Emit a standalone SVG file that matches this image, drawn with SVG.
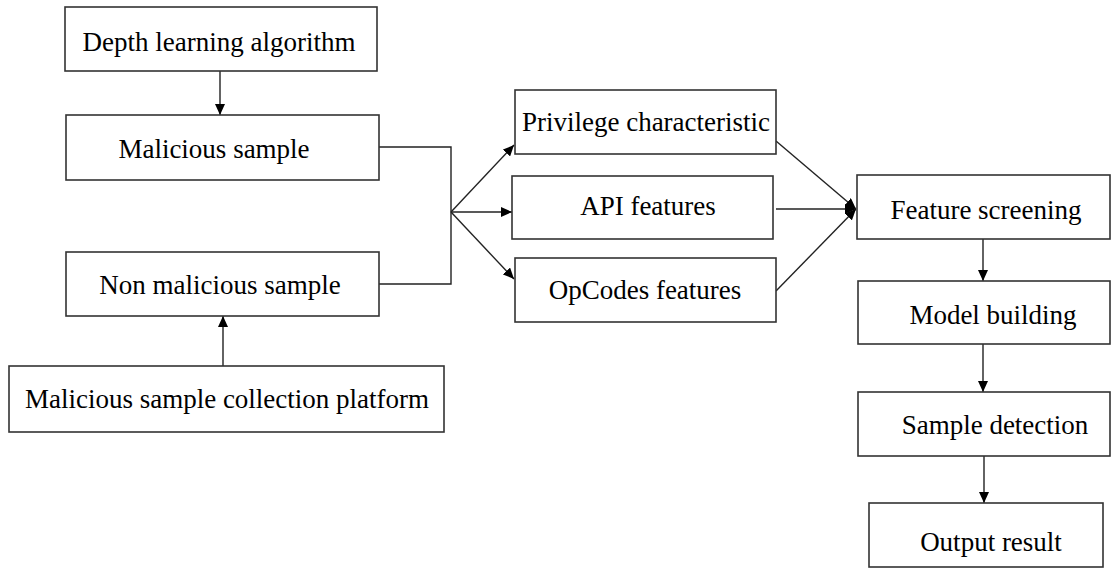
<svg xmlns="http://www.w3.org/2000/svg" width="1111" height="568" viewBox="0 0 1111 568">
<style>
.box{fill:#fff;stroke:#333;stroke-width:1.6}
.t{font-family:"Liberation Serif","Times New Roman",serif;font-size:27px;fill:#000;text-anchor:middle}
.c{fill:none;stroke:#222;stroke-width:1.4}
</style>
<defs>
<marker id="ah" markerUnits="userSpaceOnUse" markerWidth="12" markerHeight="10" refX="11" refY="5" orient="auto">
<path d="M0,0 L11,5 L0,10 Z" fill="#000"/>
</marker>
</defs>
<rect width="1111" height="568" fill="#fff"/>
<g id="connectors">
<line class="c" x1="220" y1="71" x2="220" y2="115" marker-end="url(#ah)"/>
<line class="c" x1="223" y1="366" x2="223" y2="316" marker-end="url(#ah)"/>
<polyline class="c" points="379,147 451,147 451,284 379,284"/>
<line class="c" x1="451" y1="212" x2="514" y2="145" marker-end="url(#ah)"/>
<line class="c" x1="451" y1="212" x2="512" y2="212" marker-end="url(#ah)"/>
<line class="c" x1="451" y1="212" x2="514" y2="279" marker-end="url(#ah)"/>
<line class="c" x1="776" y1="141" x2="856" y2="209" marker-end="url(#ah)"/>
<line class="c" x1="776" y1="209" x2="856" y2="209" marker-end="url(#ah)"/>
<line class="c" x1="776" y1="291" x2="856" y2="209" marker-end="url(#ah)"/>
<line class="c" x1="983" y1="239" x2="983" y2="281" marker-end="url(#ah)"/>
<line class="c" x1="983" y1="344" x2="983" y2="392" marker-end="url(#ah)"/>
<line class="c" x1="984" y1="456" x2="984" y2="503" marker-end="url(#ah)"/>
</g>
<g id="depth"><rect class="box" x="65" y="7" width="312" height="64"/><text class="t" x="219" y="51">Depth learning algorithm</text></g>
<g id="malicious"><rect class="box" x="66" y="115" width="313" height="65"/><text class="t" x="214" y="158">Malicious sample</text></g>
<g id="nonmalicious"><rect class="box" x="66" y="252" width="313" height="64"/><text class="t" x="220" y="294">Non malicious sample</text></g>
<g id="platform"><rect class="box" x="9" y="366" width="435" height="66"/><text class="t" x="227" y="408">Malicious sample collection platform</text></g>
<g id="privilege"><rect class="box" x="515" y="90" width="261" height="64"/><text class="t" x="646" y="131">Privilege characteristic</text></g>
<g id="api"><rect class="box" x="512" y="176" width="261" height="63"/><text class="t" x="648" y="215">API features</text></g>
<g id="opcodes"><rect class="box" x="515" y="258" width="261" height="64"/><text class="t" x="645" y="299">OpCodes features</text></g>
<g id="screening"><rect class="box" x="857" y="175" width="253" height="64"/><text class="t" x="986" y="219">Feature screening</text></g>
<g id="model"><rect class="box" x="858" y="281" width="252" height="63"/><text class="t" x="993" y="324">Model building</text></g>
<g id="detection"><rect class="box" x="858" y="392" width="252" height="64"/><text class="t" x="995" y="434">Sample detection</text></g>
<g id="output"><rect class="box" x="869" y="503" width="234" height="64"/><text class="t" x="991" y="551">Output result</text></g>
</svg>
